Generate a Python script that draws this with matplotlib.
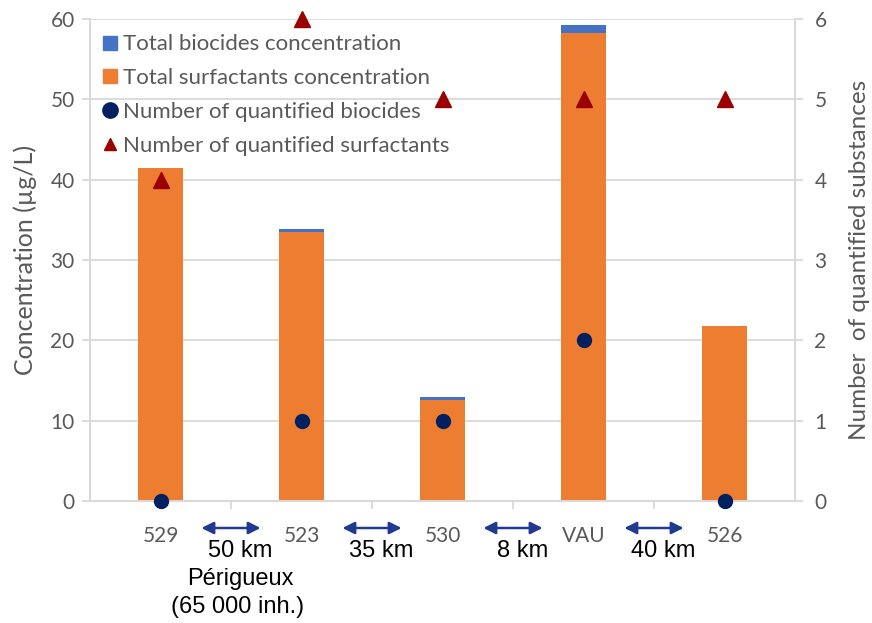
import numpy as np
import matplotlib
matplotlib.use("Agg")
import matplotlib.pyplot as plt
from matplotlib.lines import Line2D
from matplotlib.transforms import blended_transform_factory

# data
sites = ["529", "523", "530", "VAU", "526"]
surfactants_conc = [41.5, 33.5, 12.6, 58.2, 21.8]
biocides_conc = [0.0, 0.4, 0.3, 1.0, 0.0]
n_biocides = [0, 1, 1, 2, 0]
n_surfactants = [4, 6, 5, 5, 5]
distances = ["50 km", "35 km", "8 km", "40 km"]

ORANGE = "#ED7D31"
BLUE = "#4472C4"
NAVY = "#002060"
DARKRED = "#9B0000"
GRID = "#D9D9D9"
TXT = "#595959"

plt.rcParams['font.family'] = ['Lato', 'DejaVu Sans']

W, H = 872, 623
fig = plt.figure(figsize=(W/100, H/100), dpi=100)
ax = fig.add_axes([90/W, 1-501/H, 705/W, 482/H])
ax2 = ax.twinx()

x = np.arange(len(sites))
ax.bar(x, surfactants_conc, width=0.32, color=ORANGE, zorder=2)
ax.bar(x, biocides_conc, bottom=surfactants_conc, width=0.32, color=BLUE, zorder=2)

ax.set_xlim(-0.5, len(sites)-0.5)
ax.set_ylim(0, 60)
ax.set_yticks(range(0, 61, 10))
ax.yaxis.grid(True, color=GRID, lw=1.3)
ax.set_axisbelow(True)

# category boundaries as ticks, names at centres
ax.set_xticks(x[:-1] + 0.5)
ax.set_xticklabels([])
ax.set_xticks(x, sites, minor=True)
ax.tick_params(axis='x', which='major', length=6, color=GRID, width=1.3)
ax.tick_params(axis='x', which='minor', length=0, pad=18, labelsize=15, labelcolor=TXT)
ax.tick_params(axis='y', length=6, color=GRID, width=1.3, labelsize=15, labelcolor=TXT, pad=5)

ax2.plot(x, n_biocides, 'o', color=NAVY, ms=10, clip_on=False, zorder=5)
ax2.plot(x, n_surfactants, '^', color=DARKRED, ms=11, clip_on=False, zorder=5)
ax2.set_ylim(0, 6)
ax2.set_yticks(range(0, 7))
ax2.tick_params(axis='y', length=6, color=GRID, width=1.3, labelsize=15, labelcolor=TXT, pad=8)

for a in (ax, ax2):
    a.spines['top'].set_visible(False)
    for s in ('left', 'right', 'bottom'):
        a.spines[s].set_color(GRID)
        a.spines[s].set_linewidth(1.3)

ax.set_ylabel("Concentration (µg/L)", fontsize=18, color=TXT, labelpad=10)
ax2.set_ylabel("Number  of quantified substances", fontsize=17.5, color=TXT, labelpad=16)

handles = [
    Line2D([], [], marker='s', ls='', color=BLUE, ms=10),
    Line2D([], [], marker='s', ls='', color=ORANGE, ms=10),
    Line2D([], [], marker='o', ls='', color=NAVY, ms=11),
    Line2D([], [], marker='^', ls='', color=DARKRED, ms=9),
]
labels = ["Total biocides concentration", "Total surfactants concentration",
          "Number of quantified biocides", "Number of quantified surfactants"]
ax2.legend(handles, labels, loc='upper left', bbox_to_anchor=(-0.012, 1.005),
           frameon=False, fontsize=16, labelcolor=TXT, handletextpad=0.05,
           handlelength=1.0, labelspacing=0.62, borderaxespad=0.4)

# distance arrows below the axis
trans = blended_transform_factory(ax.transData, fig.transFigure)
for i, d in enumerate(distances):
    b = i + 0.5
    ax.annotate('', xy=(b - 0.21, 1 - 528/H), xytext=(b + 0.21, 1 - 528/H),
                xycoords=trans, textcoords=trans, annotation_clip=False,
                arrowprops=dict(arrowstyle='<|-|>', color='#1F3A93', lw=1.8,
                                mutation_scale=18, shrinkA=0, shrinkB=0))
    ax.text(b + 0.065, 1 - 551/H, d, transform=trans, ha='center', va='center',
            fontsize=17, family='Liberation Sans', color='black')
ax.text(0.565, 1 - 579/H, "Périgueux", transform=trans, ha='center', va='center',
        fontsize=17, family='Liberation Sans', color='black')
ax.text(0.55, 1 - 607/H, "(65 000 inh.)", transform=trans, ha='center', va='center',
        fontsize=17, family='Liberation Sans', color='black')

fig.savefig("out.png", dpi=100)
